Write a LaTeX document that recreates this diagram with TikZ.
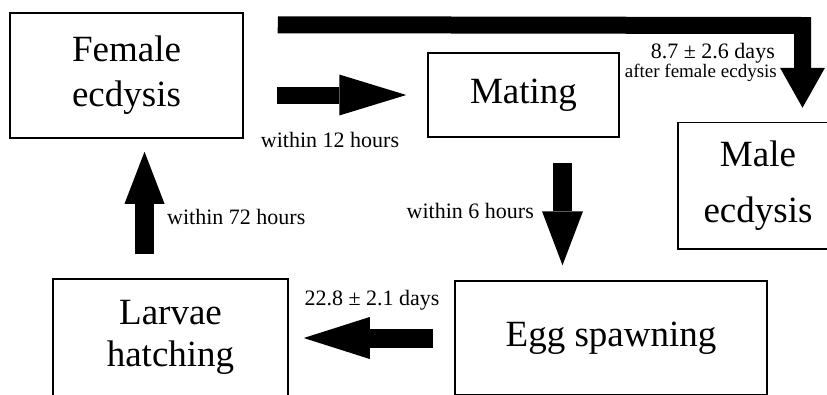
\documentclass[tikz,border=0pt]{standalone}
\usepackage{fontspec}
\setmainfont{Liberation Serif}
\usetikzlibrary{arrows.meta}

\begin{document}
\begin{tikzpicture}[x=1pt,y=-1pt,line join=miter,
        stage node/.style={rectangle,draw,line width=1.5pt,inner sep=0pt,align=center,
          font=\fontsize{37}{45}\selectfont},
        time label/.style={inner sep=0pt,font=\fontsize{22}{22}\selectfont},
        fat arrow/.style args={#1/#2/#3}{line width=#1,
          -{Triangle[length=#2,width=#3,line width=0pt]}}]
        \useasboundingbox (0,0) rectangle (827,394);

        \node[stage node,minimum width=233pt,minimum height=125pt] (female) at (126.5,75.5) {Female\\ecdysis};
        \node[stage node,minimum width=191pt,minimum height=84pt] (mating) at (523.5,95) {Mating};
        \node[stage node,minimum width=160pt,minimum height=126.5pt,
          font=\fontsize{37}{56}\selectfont] (male) at (758,185.75) {Male\\ecdysis};
        \node[stage node,minimum width=312pt,minimum height=114pt] (egg) at (611,338) {Egg spawning};
        \node[stage node,minimum width=235pt,minimum height=117pt,
          font=\fontsize{37}{42}\selectfont] (larvae) at (170.5,337.5) {Larvae\\hatching};

        % female ecdysis -> male ecdysis, round the top
        \coordinate (bend) at (802.5,25.5);
        \draw[fat arrow=17pt/40pt/45pt,shorten >=14pt]
          ([xshift=34pt,yshift=-12.5pt]female.north east) -- (bend) -- (bend |- male.north);
        \draw[fat arrow=17pt/67pt/41pt,shorten <=33pt,shorten >=21pt]
          (female.east |- mating.west) -- (mating.west);
        \draw[fat arrow=19pt/54pt/41pt,shorten <=25pt,shorten >=15pt]
          ([xshift=39pt]mating.south) -- ([xshift=39pt]mating.south |- egg.north);
        \draw[fat arrow=19pt/66pt/42pt,shorten <=21pt,shorten >=15pt]
          (egg.west) -- (larvae.east |- egg.west);
        \draw[fat arrow=19pt/52pt/40pt,shorten <=24pt,shorten >=13pt]
          ([xshift=-26pt]larvae.north) -- ([xshift=-26pt]larvae.north |- female.south);

        \node[time label,anchor=base east] (daystxt) at (775,58) {8.7 ± 2.6 days};
        \node[time label,anchor=base east,font=\fontsize{19}{19}\selectfont] (aftertxt) at (777,77) {after female ecdysis};
        \node[time label,anchor=base] (within12) at (330,147) {within 12 hours};
        \node[time label,anchor=base east] (within6) at (534,218) {within 6 hours};
        \node[time label,anchor=base west] (within72) at (167,224) {within 72 hours};
        \node[time label,anchor=base] (spawndays) at (372,305) {22.8 ± 2.1 days};
\end{tikzpicture}
\end{document}
